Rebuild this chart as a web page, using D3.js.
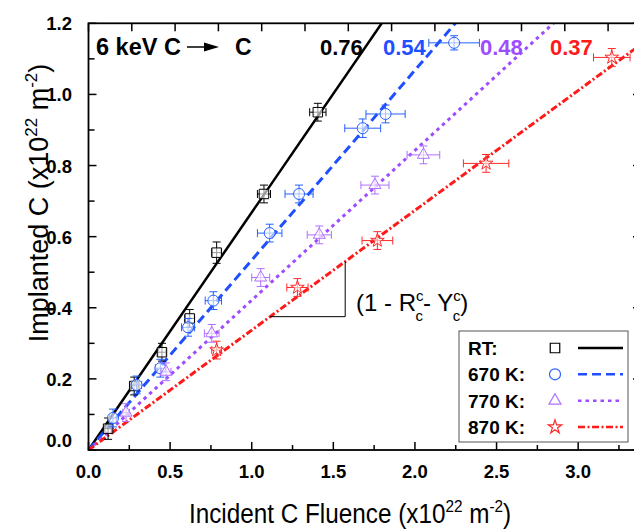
<!DOCTYPE html>
<html><head><meta charset="utf-8">
<script src="https://cdn.jsdelivr.net/npm/d3@7"></script>
<style>
html,body{margin:0;padding:0;background:#fff;}
svg{display:block;font-family:"Liberation Sans",Arial,sans-serif;}
</style></head>
<body><svg id="c" width="634" height="530"></svg>
<script>
// ---- data ----
const seriesNames = ["RT:", "670 K:", "770 K:", "870 K:"];
const slopeLabels = ["0.76", "0.54", "0.48", "0.37"];
const fitSlopes = [0.668, 0.534, 0.4213, 0.337];

const rtX    = [0.12, 0.28, 0.45, 0.62, 0.785, 1.075, 1.405];
const rtY    = [0.06, 0.18, 0.275, 0.37, 0.555, 0.72, 0.95];
const rtXerr = [0.02, 0.02, 0.025, 0.03, 0.03, 0.04, 0.05];
const rtYerr = [0.03, 0.025, 0.025, 0.025, 0.03, 0.025, 0.025];

const k670X    = [0.15, 0.295, 0.44, 0.61, 0.765, 1.11, 1.29, 1.68, 1.82, 2.24];
const k670Y    = [0.09, 0.183, 0.23, 0.345, 0.42, 0.61, 0.72, 0.905, 0.945, 1.145];
const k670Xerr = [0.02, 0.03, 0.03, 0.04, 0.05, 0.075, 0.086, 0.11, 0.12, 0.155];
const k670Yerr = [0.025, 0.025, 0.025, 0.025, 0.025, 0.025, 0.025, 0.026, 0.025, 0.02];

const k770X    = [0.23, 0.475, 0.755, 1.055, 1.414, 1.755, 2.052];
const k770Y    = [0.105, 0.22, 0.328, 0.485, 0.605, 0.745, 0.83];
const k770Xerr = [0.02, 0.03, 0.045, 0.055, 0.074, 0.086, 0.10];
const k770Yerr = [0.025, 0.025, 0.025, 0.025, 0.025, 0.025, 0.025];

const k870X    = [0.785, 1.28, 1.77, 2.436, 3.206];
const k870Y    = [0.281, 0.457, 0.589, 0.806, 1.104];
const k870Xerr = [0.03, 0.065, 0.094, 0.139, 0.112];
const k870Yerr = [0.025, 0.025, 0.025, 0.025, 0.025];

const xTickLabels = [0.0, 0.5, 1.0, 1.5, 2.0, 2.5, 3.0];
const yTickLabels = [0.0, 0.2, 0.4, 0.6, 0.8, 1.0, 1.2];

// ---- layout ----
const L = 88.5, R = 641, T = 23.3, B = 450;
const svg = d3.select("#c");
const x = d3.scaleLinear().domain([0, 3.385]).range([L, R]);
const xTop = d3.scaleLinear().domain([0, 3.19]).range([L, R]);
const y = d3.scaleLinear().domain([0, 1.2]).range([B, T]);

const lineColors = ["#000000", "#1f4fff", "#9d4dff", "#ff1a1a"];
const markColors = ["#000000", "#2560ff", "#b070ff", "#ff2a2a"];
const dashes = [null, "9,5", "3.5,4", "7,2.5,2,2.5"];
const symTypes = [d3.symbolSquare, d3.symbolCircle, d3.symbolTriangle, d3.symbolStar];
const symSizes = [90, 95, 62, 58];

const data = [
  {x: rtX, y: rtY, xe: rtXerr, ye: rtYerr},
  {x: k670X, y: k670Y, xe: k670Xerr, ye: k670Yerr},
  {x: k770X, y: k770Y, xe: k770Xerr, ye: k770Yerr},
  {x: k870X, y: k870Y, xe: k870Xerr, ye: k870Yerr}
];

// clip
svg.append("defs").append("clipPath").attr("id","pc")
  .append("rect").attr("x",L).attr("y",T).attr("width",R-L).attr("height",B-T);

// fit lines
const gl = svg.append("g").attr("clip-path","url(#pc)");
fitSlopes.forEach((s,i)=>{
  const xmax = 3.385;
  gl.append("line")
    .attr("x1", x(0)).attr("y1", y(0))
    .attr("x2", x(xmax)).attr("y2", y(s*xmax))
    .attr("stroke", lineColors[i]).attr("stroke-width", i===0?2.5:3)
    .attr("stroke-dasharray", dashes[i]);
});

// slope triangle
{
  const yb = 0.375, ytop = 0.53;
  const xb = yb/fitSlopes[3];
  const xv = ytop/fitSlopes[3];
  svg.append("path")
    .attr("d", `M${x(xb)},${y(yb)}H${x(xv)}V${y(ytop)}`)
    .attr("fill","none").attr("stroke","#000").attr("stroke-width",1);
}

// error bars and markers
data.forEach((d,i)=>{
  const g = svg.append("g").attr("stroke", markColors[i]).attr("fill","none").attr("stroke-width",1);
  d.x.forEach((xv,j)=>{
    const yv = d.y[j], xe = d.xe[j], ye = d.ye[j];
    const cx = x(xv), cy = y(yv);
    const cap = 4;
    g.append("line").attr("x1",x(xv-xe)).attr("x2",x(xv+xe)).attr("y1",cy).attr("y2",cy);
    g.append("line").attr("x1",x(xv-xe)).attr("x2",x(xv-xe)).attr("y1",cy-cap).attr("y2",cy+cap);
    g.append("line").attr("x1",x(xv+xe)).attr("x2",x(xv+xe)).attr("y1",cy-cap).attr("y2",cy+cap);
    g.append("line").attr("x1",cx).attr("x2",cx).attr("y1",y(yv-ye)).attr("y2",y(yv+ye));
    g.append("line").attr("x1",cx-cap).attr("x2",cx+cap).attr("y1",y(yv-ye)).attr("y2",y(yv-ye));
    g.append("line").attr("x1",cx-cap).attr("x2",cx+cap).attr("y1",y(yv+ye)).attr("y2",y(yv+ye));
    g.append("path").attr("d", d3.symbol().type(symTypes[i]).size(symSizes[i])())
      .attr("transform",`translate(${cx},${cy})`).attr("fill","rgba(255,255,255,0.6)");
  });
});

// axes frame
svg.append("rect").attr("x",L).attr("y",T).attr("width",R-L).attr("height",B-T)
  .attr("fill","none").attr("stroke","#000").attr("stroke-width",1.8);

// ticks
const axg = svg.append("g").attr("stroke","#000").attr("stroke-width",1.5);
d3.range(0, 3.385, 0.25).forEach(v=>{
  const major = Math.abs(v/0.5 - Math.round(v/0.5))<1e-6;
  axg.append("line").attr("x1",x(v)).attr("x2",x(v)).attr("y1",B).attr("y2",B-(major?8:5));
});
d3.range(0, 3.19, 0.25).forEach(v=>{
  axg.append("line").attr("x1",xTop(v)).attr("x2",xTop(v)).attr("y1",T).attr("y2",T+8);
});
d3.range(0, 1.2001, 0.1).forEach(v=>{
  const major = Math.abs(v/0.2 - Math.round(v/0.2))<1e-6;
  axg.append("line").attr("x1",L).attr("x2",L+(major?8:6)).attr("y1",y(v)).attr("y2",y(v));
  axg.append("line").attr("x1",R).attr("x2",R-(major?8:6)).attr("y1",y(v)).attr("y2",y(v));
});

// tick labels
svg.append("g").selectAll("text").data(xTickLabels).join("text")
  .attr("x", d=>x(d)).attr("y", 478).attr("text-anchor","middle")
  .attr("font-size",18.5).attr("font-weight","bold").text(d=>d.toFixed(1));
svg.append("g").selectAll("text").data(yTickLabels).join("text")
  .attr("x", 72).attr("y", d=> d===0 ? y(d)-3 : y(d)+7).attr("text-anchor","end")
  .attr("font-size",18.5).attr("font-weight","bold").text(d=>d.toFixed(1));

// axis titles
function title(g, main) {
  const t = g.append("text").attr("text-anchor","middle").attr("font-size",27);
  t.append("tspan").text(main + " (x10");
  t.append("tspan").attr("dy",-11).attr("font-size",17).text("22");
  t.append("tspan").attr("dy",11).text(" m");
  t.append("tspan").attr("dy",-11).attr("font-size",17).text("-2");
  t.append("tspan").attr("dy",11).text(")");
  return t;
}
title(svg.append("g").attr("transform","translate(350,523) scale(0.9,1)"), "Incident C Fluence");
title(svg.append("g").attr("transform","translate(48,203) rotate(-90) scale(1,1)"), "Implanted C");

// top annotation
svg.append("text").attr("x",96).attr("y",55).attr("font-size",23).attr("font-weight","bold")
  .attr("textLength",85).attr("lengthAdjust","spacingAndGlyphs").text("6 keV C");
svg.append("line").attr("x1",187).attr("x2",210).attr("y1",47).attr("y2",47)
  .attr("stroke","#000").attr("stroke-width",1.5);
svg.append("path").attr("d","M204,42.5L219,47L204,51.5Z").attr("fill","#000");
svg.append("text").attr("x",235).attr("y",55).attr("font-size",23).attr("font-weight","bold").text("C");

const labelX = [320, 383, 480, 550];
slopeLabels.forEach((s,i)=>{
  svg.append("text").attr("x",labelX[i]).attr("y",55).attr("font-size",22).attr("font-weight","bold")
    .attr("fill", lineColors[i]).text(s);
});

// (1 - R_c^c - Y_c^c)
{
  const t = svg.append("text").attr("x",356).attr("y",311).attr("font-size",24);
  t.append("tspan").text("(1 - R");
  t.append("tspan").attr("dy",-10).attr("font-size",15).text("c");
  t.append("tspan").attr("dx",-8).attr("dy",20).attr("font-size",15).text("c");
  t.append("tspan").attr("dy",-10).text("- Y");
  t.append("tspan").attr("dy",-10).attr("font-size",15).text("c");
  t.append("tspan").attr("dx",-8).attr("dy",20).attr("font-size",15).text("c");
  t.append("tspan").attr("dy",-10).text(")");
}

// legend
svg.append("rect").attr("x",459).attr("y",331).attr("width",169).attr("height",111)
  .attr("fill","#fff").attr("stroke","#555").attr("stroke-width",1);
const legBase = [355, 381.3, 407.7, 434];
seriesNames.forEach((n,i)=>{
  svg.append("text").attr("x",468).attr("y",legBase[i]).attr("font-size",19).attr("font-weight","bold").text(n);
  const cy = legBase[i]-7;
  svg.append("path").attr("d", d3.symbol().type(symTypes[i]).size(symSizes[i])())
    .attr("transform",`translate(555,${cy})`).attr("fill","none")
    .attr("stroke",markColors[i]).attr("stroke-width",1.2);
  svg.append("line").attr("x1",578).attr("x2",623).attr("y1",cy).attr("y2",cy)
    .attr("stroke",lineColors[i]).attr("stroke-width",2.5)
    .attr("stroke-dasharray", dashes[i]);
});
</script></body></html>
